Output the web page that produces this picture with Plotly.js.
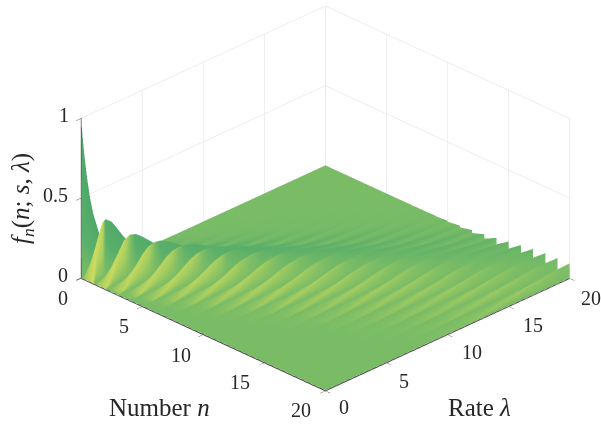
<!DOCTYPE html>
<html><head><meta charset="utf-8">
<script src="https://cdn.plot.ly/plotly-3.0.1.min.js"></script>
<style>html,body{margin:0;padding:0;background:#fff;overflow:hidden}#p{width:601px;height:424px}</style>
</head><body><div id="p"></div>
<script>
var rate = [0,.25,.5,.75,1,1.5,2,2.5,3,3.5,4,4.5,5,5.5,6,7,8,9,10,11,12,13,14,15,16,17,18,19,20];
var number = [0,1,2,3,4,5,6,7,8,9,10,11,12,13,14,15,16,17,18,19,20];
var pmfByNumber = [
[1,.779,.607,.472,.368,.223,.135,.082,.050,.030,.018,.011,.007,.004,.002,.001,0,0,0,0,0,0,0,0,0,0,0,0,0],
[0,.195,.303,.354,.368,.335,.271,.205,.149,.106,.073,.050,.034,.023,.015,.006,.003,.001,.001,0,0,0,0,0,0,0,0,0,0],
[0,.024,.076,.133,.184,.251,.271,.257,.224,.185,.147,.112,.084,.062,.045,.022,.011,.005,.002,.001,0,0,0,0,0,0,0,0,0],
[0,.002,.013,.033,.061,.126,.180,.214,.224,.216,.195,.169,.140,.113,.089,.052,.029,.015,.008,.004,.002,.001,0,0,0,0,0,0,0],
[0,0,.002,.006,.015,.047,.090,.134,.168,.189,.195,.190,.175,.156,.134,.091,.057,.034,.019,.010,.005,.003,.001,.001,0,0,0,0,0],
[0,0,0,.001,.003,.014,.036,.067,.101,.132,.156,.171,.175,.171,.161,.128,.092,.061,.038,.022,.013,.007,.004,.002,.001,.001,0,0,0],
[0,0,0,0,.001,.004,.012,.028,.050,.077,.104,.128,.146,.157,.161,.149,.122,.091,.063,.041,.026,.015,.009,.005,.003,.001,.001,0,0],
[0,0,0,0,0,.001,.003,.010,.022,.039,.060,.082,.104,.123,.138,.149,.140,.117,.090,.065,.044,.028,.017,.010,.006,.003,.002,.001,.001],
[0,0,0,0,0,0,.001,.003,.008,.017,.030,.046,.065,.085,.103,.130,.140,.132,.113,.089,.066,.046,.030,.019,.012,.007,.004,.002,.001],
[0,0,0,0,0,0,0,.001,.003,.007,.013,.023,.036,.052,.069,.101,.124,.132,.125,.109,.087,.066,.047,.032,.021,.014,.008,.005,.003],
[0,0,0,0,0,0,0,0,.001,.002,.005,.010,.018,.029,.041,.071,.099,.119,.125,.119,.105,.086,.066,.049,.034,.023,.015,.010,.006],
[0,0,0,0,0,0,0,0,0,.001,.002,.004,.008,.014,.023,.045,.072,.097,.114,.119,.114,.102,.084,.066,.050,.036,.025,.016,.011],
[0,0,0,0,0,0,0,0,0,0,.001,.002,.003,.007,.011,.026,.048,.073,.095,.109,.114,.110,.098,.083,.066,.050,.037,.026,.018],
[0,0,0,0,0,0,0,0,0,0,0,.001,.001,.003,.005,.014,.030,.050,.073,.093,.106,.110,.106,.096,.081,.066,.051,.038,.027],
[0,0,0,0,0,0,0,0,0,0,0,0,0,.001,.002,.007,.017,.032,.052,.073,.091,.102,.106,.102,.093,.080,.066,.051,.039],
[0,0,0,0,0,0,0,0,0,0,0,0,0,0,.001,.003,.009,.019,.035,.053,.072,.089,.099,.102,.099,.091,.079,.065,.052],
[0,0,0,0,0,0,0,0,0,0,0,0,0,0,0,.001,.005,.011,.022,.037,.054,.072,.087,.096,.099,.096,.088,.077,.065],
[0,0,0,0,0,0,0,0,0,0,0,0,0,0,0,.001,.002,.006,.013,.024,.038,.055,.071,.085,.093,.096,.094,.086,.076],
[0,0,0,0,0,0,0,0,0,0,0,0,0,0,0,0,.001,.003,.007,.015,.026,.040,.055,.071,.083,.091,.094,.091,.084],
[0,0,0,0,0,0,0,0,0,0,0,0,0,0,0,0,0,.001,.004,.008,.016,.027,.041,.056,.070,.081,.089,.091,.089],
[0,0,0,0,0,0,0,0,0,0,0,0,0,0,0,0,0,.001,.002,.005,.010,.018,.029,.042,.056,.069,.080,.087,.089]
];
var nTicks = [0,5,10,15,20];
var rateTicks = [0,5,10,15,20];
var zTicks = [0,0.5,1];
var zTickText = ['0','0.5','1'];

// each column of the surface falls sharply back to the floor right after its crest
var gap = 0.02;
var xs = [], rowsN = [];
number.forEach(function(n,i){
  if(i < number.length-1){ xs.push(n); rowsN.push(i); xs.push(n+gap); rowsN.push(-1); }
  else { xs.push(n-gap); rowsN.push(i); xs.push(n); rowsN.push(-1); }
});
function tone(i,j){
  var r = pmfByNumber[i];
  var a = Math.max(j-1,0), b = Math.min(j+1,rate.length-1);
  var s = (r[b]-r[a])/(rate[b]-rate[a]);
  return s/(Math.abs(s)+0.05);
}
var z = rate.map(function(_,j){ return rowsN.map(function(i){ return i<0?0:pmfByNumber[i][j]; }); });
var c = rate.map(function(_,j){ return rowsN.map(function(i){ return i<0?0:tone(i,j); }); });

var serif = 'Liberation Serif, Times New Roman, serif';
var tickFont = {family:serif,size:20,color:'#262626'};
function lab(x,y,zv,t,dx,dy){
  return {x:x,y:y,z:zv,text:t,showarrow:false,xanchor:'center',yanchor:'middle',xshift:dx,yshift:dy,font:tickFont};
}
var nShift = [[-18,-20],[-18,-20],[-22,-21],[-24,-20],[-24,-20]];
var rShift = [[19,-17],[18,-19],[24,-18],[24,-19],[21,-20]];
var zShift = [[-18,3],[-26,3],[-17,3]];
var ann = [];
nTicks.forEach(function(v,i){ ann.push(lab(v,0,0,String(v),nShift[i][0],nShift[i][1])); });
rateTicks.forEach(function(v,i){ ann.push(lab(20,v,0,String(v),rShift[i][0],rShift[i][1])); });
zTicks.forEach(function(v,i){ ann.push(lab(0,0,v,zTickText[i],zShift[i][0],zShift[i][1])); });

function ax(vals,range){
  return {range:range,tickvals:vals,showticklabels:false,title:{text:''},ticks:'outside',ticklen:7,tickcolor:'#555',tickwidth:1,
    showgrid:true,gridcolor:'#dcdcdc',gridwidth:1,showline:true,linecolor:'#3a3a3a',linewidth:2,zeroline:false,showbackground:false,showspikes:false};
}
var titleFont = {family:serif,size:25,color:'#262626'};
var data = [{type:'surface',x:xs,y:rate,z:z,surfacecolor:c,cmin:-1,cmax:1,showscale:false,hoverinfo:'skip',
  colorscale:[[0,'#4aa66a'],[0.35,'#5aaf6a'],[0.5,'#7abc66'],[0.65,'#a6cd60'],[0.8,'#bdd660'],[1,'#d2dd5f']],
  lighting:{ambient:1,diffuse:0,specular:0,roughness:1,fresnel:0},
  contours:{x:{highlight:false},y:{highlight:false},z:{highlight:false}}}];
var layout = {width:601,height:424,margin:{l:0,r:0,t:0,b:0},paper_bgcolor:'#fff',showlegend:false,
  scene:{domain:{x:[0,1],y:[0,1]},aspectmode:'manual',aspectratio:{x:1.63,y:1.63,z:0.85},
    xaxis:ax(nTicks,[0,20]),yaxis:ax(rateTicks,[0,20]),zaxis:ax(zTicks,[-0.004,1]),
    camera:{projection:{type:'orthographic'},eye:{x:0.714,y:-0.88,z:0.512},center:{x:-0.083,y:-0.083,z:-0.072},up:{x:0,y:0,z:1}},
    annotations:ann},
  annotations:[
   {xref:'paper',yref:'paper',x:159/601,y:1-407/424,xanchor:'center',yanchor:'middle',text:'Number <i>n</i>',showarrow:false,font:titleFont},
   {xref:'paper',yref:'paper',x:479/601,y:1-407/424,xanchor:'center',yanchor:'middle',text:'Rate <i>λ</i>',showarrow:false,font:titleFont},
   {xref:'paper',yref:'paper',x:22/601,y:1-199/424,xanchor:'center',yanchor:'middle',text:'<i>f<sub>n</sub></i>(<i>n</i>; <i>s</i>, <i>λ</i>)',textangle:-90,showarrow:false,font:titleFont}
  ]};
Plotly.newPlot('p',data,layout,{displayModeBar:false});
</script></body></html>
